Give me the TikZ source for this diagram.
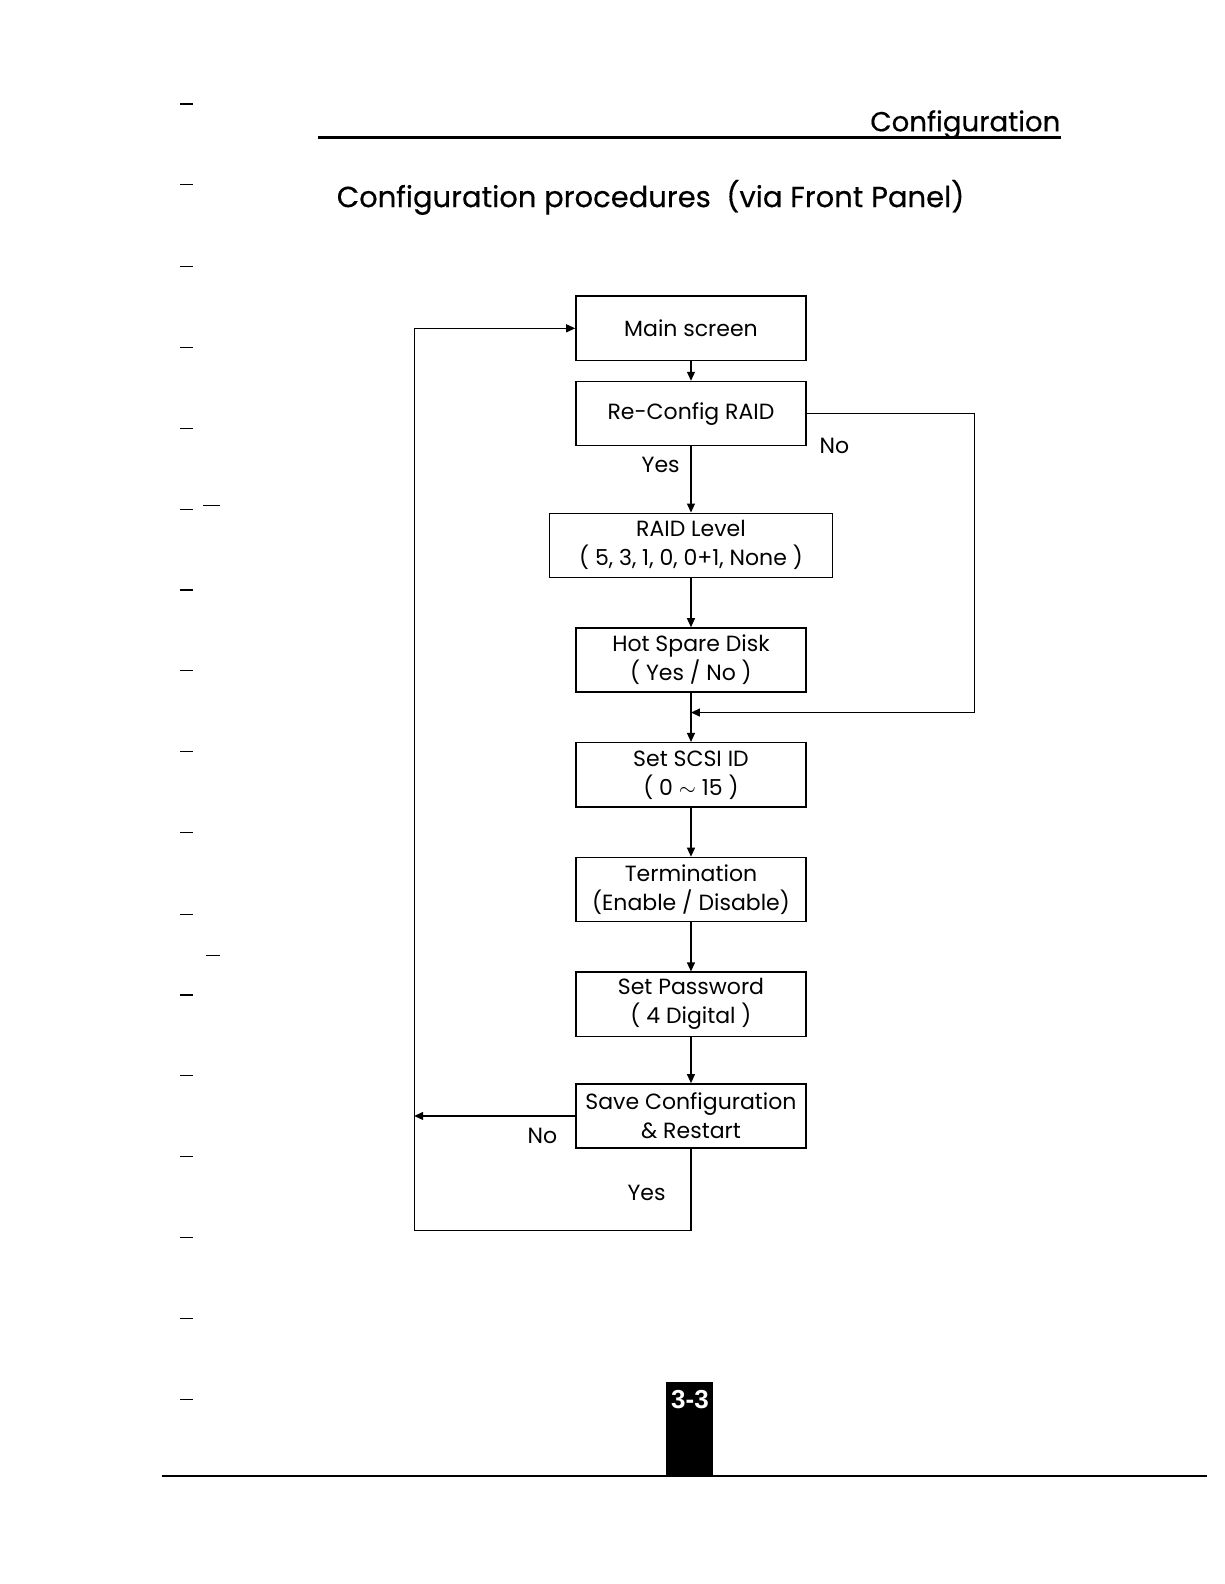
\documentclass[tikz,border=0pt]{standalone}
\usepackage{fontspec}
\setmainfont{Poppins}
\newfontfamily\headfont{Poppins}[FakeBold=0.4]
\newfontfamily\pagefont{Liberation Sans}
\usetikzlibrary{arrows.meta, positioning, calc}

\begin{document}
\begin{tikzpicture}[
    x=0.505pt, y=-0.505pt,
    node distance=24.5pt,
    every node/.style={font=\fontsize{11}{14.5}\selectfont},
    box/.style={
        rectangle, draw=black, line width=0.75pt,
        minimum width=115pt, minimum height=32.1pt,
        align=center, inner sep=1pt
    },
    widebox/.style={box, minimum width=141.5pt},
    arrow/.style={-{Triangle[length=4.5pt,width=4pt]}, line width=0.6pt},
    rule/.style={line width=1.5pt},
    bindmark/.style={line width=0.6pt}
]
\useasboundingbox (0,0) rectangle (1212,1568);

% page head
\node[anchor=base east, inner sep=0pt, font=\headfont\fontsize{13.8}{16}\selectfont] (head) at (1050,130) {Configuration};
\draw[rule] (315,136) -- (1050,136);
\node[anchor=base west, inner sep=0pt, font=\headfont\fontsize{14.5}{17}\selectfont] (title) at (333,205) {Configuration procedures\ \ (via Front Panel)};

% flow
\node[box] (main) at (684,325) {Main screen};
\node[box, below=9.8pt of main] (reconf) {Re-Config RAID};
\node[widebox, below=33pt of reconf] (level) {RAID Level\\( 5, 3, 1, 0, 0+1, None )};
\node[box, below=of level] (spare) {Hot Spare Disk\\( Yes / No )};
\node[box, below=of spare] (scsi) {Set SCSI ID\\( 0 $\sim$ 15 )};
\node[box, below=of scsi] (term) {Termination\\(Enable / Disable)};
\node[box, below=of term] (pwd) {Set Password\\( 4 Digital )};
\node[box, below=23pt of pwd] (save) {Save Configuration\\\& Restart};

\coordinate (join) at ($(spare.south)!0.4!(scsi.north)$);
\coordinate (loopbot) at (410,1218);

\node (yes1) at (654,460) {Yes};
\node (no1) at (826,441) {No};
\node (no2) at (537,1124) {No};
\node (yes2) at (640,1181) {Yes};

\draw[arrow] (main) -- (reconf);
\draw[arrow] (reconf) -- (level);
\draw[arrow] (level) -- (spare);
\draw[arrow] (spare) -- (scsi);
\draw[arrow] (scsi) -- (term);
\draw[arrow] (term) -- (pwd);
\draw[arrow] (pwd) -- (save);
\draw[arrow] (reconf.east) -- ++(166,0) |- (join);
\draw[arrow] (save.west) -- (save.west -| loopbot);
\draw[arrow] (save.south) |- (loopbot) |- (main.west);

% page foot
\fill (659,1368) rectangle (706,1461);
\node[text=white, font=\pagefont\bfseries\fontsize{13}{15}\selectfont] (pgno) at (683,1385) {3-3};
\draw[line width=0.8pt] (160,1461) -- (1195,1461);

% binder marks
\foreach \y in {103,183,264,344,424,504,584,664,744,824,905,985,1065,1145,1225,1305,1385}
    \draw[bindmark] (178,\y) -- (191,\y);
\draw[bindmark] (201,500) -- (218,500);
\draw[bindmark] (204,946) -- (218,946);

\end{tikzpicture}
\end{document}
